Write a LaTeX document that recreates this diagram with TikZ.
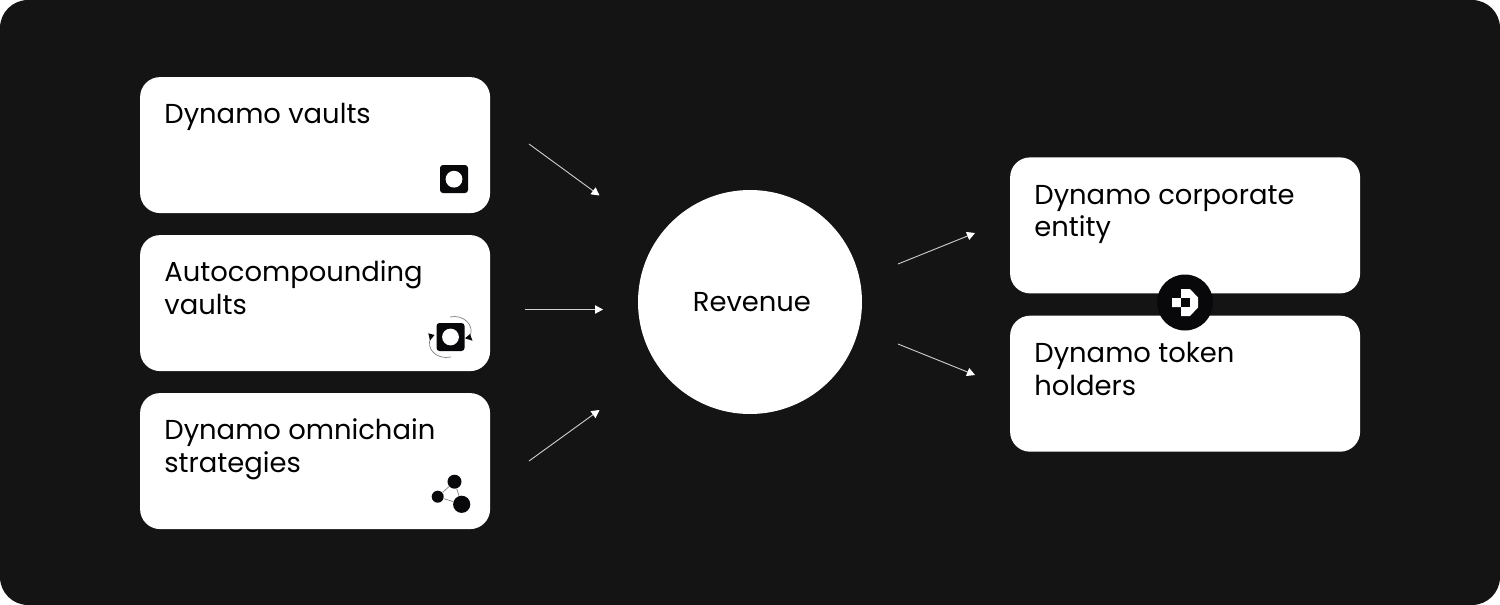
\documentclass[tikz,border=0pt]{standalone}
\usepackage{fontspec}
\setmainfont{Poppins}
\usetikzlibrary{arrows.meta}
\definecolor{panel}{HTML}{141414}
\definecolor{ink}{HTML}{08080A}
\tikzset{
  card/.style={fill=white,rounded corners=10pt,minimum width=175pt,minimum height=68pt,inner sep=0pt,anchor=north west},
  cardtext/.style={text=black,font=\fontsize{13.7pt}{16.5pt}\selectfont,align=left,inner sep=0pt,anchor=base west},
  flow/.style={draw=white!80!panel,line width=0.45pt,-{Triangle[color=white,length=4pt,width=4.2pt]}},
  iconbox/.style={fill=ink,rounded corners=1.5pt,minimum size=14pt,inner sep=0pt},
  icondot/.style={circle,fill=white,minimum size=8.4pt,inner sep=0pt},
  hub/.style={circle,fill=ink,inner sep=0pt},
  link/.style={draw=black!45,line width=0.4pt},
  orbit/.style={draw=black!50,line width=0.35pt}
}
\begin{document}
\begin{tikzpicture}[x=0.5pt,y=-0.5pt]
\useasboundingbox (0,0) rectangle (1500,605);
\fill[white] (0,0) rectangle (1500,605);
\fill[panel,rounded corners=14pt] (0,0) rectangle (1500,605);

\node[card] (vaults) at (139.7,76.7) {};
\node[card] (auto) at (139.7,234.7) {};
\node[card] (omni) at (139.7,392.7) {};
\node[card] (corp) at (1009.7,157) {};
\node[card] (token) at (1009.7,315.3) {};
\node[circle,fill=white,minimum size=112pt,inner sep=0pt] (rev) at (750,302) {};

\node[cardtext] (tvaults) at (164,123) {Dynamo vaults};
\node[cardtext] (tauto) at (164,281) {Autocompounding};
\node[cardtext] (tauto2) at (164,314) {vaults};
\node[cardtext] (tomni) at (164,439) {Dynamo omnichain};
\node[cardtext] (tomni2) at (164,472) {strategies};
\node[cardtext] (tcorp) at (1034,204) {Dynamo corporate};
\node[cardtext] (tcorp2) at (1034,236.5) {entity};
\node[cardtext] (ttoken) at (1034,362) {Dynamo token};
\node[cardtext] (ttoken2) at (1034,395) {holders};
\node[cardtext] (trev) at (692.5,311) {Revenue};

\coordinate (a1) at (529,144); \coordinate (b1) at (599.5,195.5);
\coordinate (a2) at (525,309.5); \coordinate (b2) at (603,309.5);
\coordinate (a3) at (529,461); \coordinate (b3) at (599.5,410);
\coordinate (c1) at (898,264); \coordinate (d1) at (975,233);
\coordinate (c2) at (898,344); \coordinate (d2) at (975,375);
\draw[flow] (a1) -- (b1);
\draw[flow] (a2) -- (b2);
\draw[flow] (a3) -- (b3);
\draw[flow] (c1) -- (d1);
\draw[flow] (c2) -- (d2);

% vault icon
\node[iconbox] (ic1) at (454,179) {};
\node[icondot] (ic1d) at (454,179.2) {};

% autocompounding icon
\draw[orbit] (450,317) .. controls (463,314) and (475,325) .. (470,336);
\draw[orbit] (451,357) .. controls (437,360) and (425,349) .. (431,337);
\fill[ink] (465,338.3) -- (472.5,340.7) -- (470,334) -- cycle;
\fill[ink] (428.3,333.3) -- (434.5,335) -- (430,340.5) -- cycle;
\node[iconbox] (ic2) at (450.5,337) {};
\node[icondot] (ic2d) at (450.5,337) {};

% omnichain icon
\node[circle,fill=ink,minimum size=7pt,inner sep=0pt] (n1) at (454.5,481.7) {};
\node[circle,fill=ink,minimum size=6pt,inner sep=0pt] (n2) at (437.7,496.7) {};
\node[circle,fill=ink,minimum size=8.6pt,inner sep=0pt] (n3) at (461.7,504.3) {};
\draw[link] (n1) -- (n2);
\draw[link] (n2) -- (n3);
\draw[link] (n3) -- (n1);

% logo
\node[hub,minimum size=28pt] (logo) at (1185,302.5) {};
\fill[white] (1172,298) -- (1181,298) -- (1181,289) -- (1190,289) -- (1198,297.5) -- (1198,307.5) -- (1190,316) -- (1181,316) -- (1181,307) -- (1172,307) -- cycle;
\fill[ink] (1181,298) rectangle (1189.5,307);
\end{tikzpicture}
\end{document}
